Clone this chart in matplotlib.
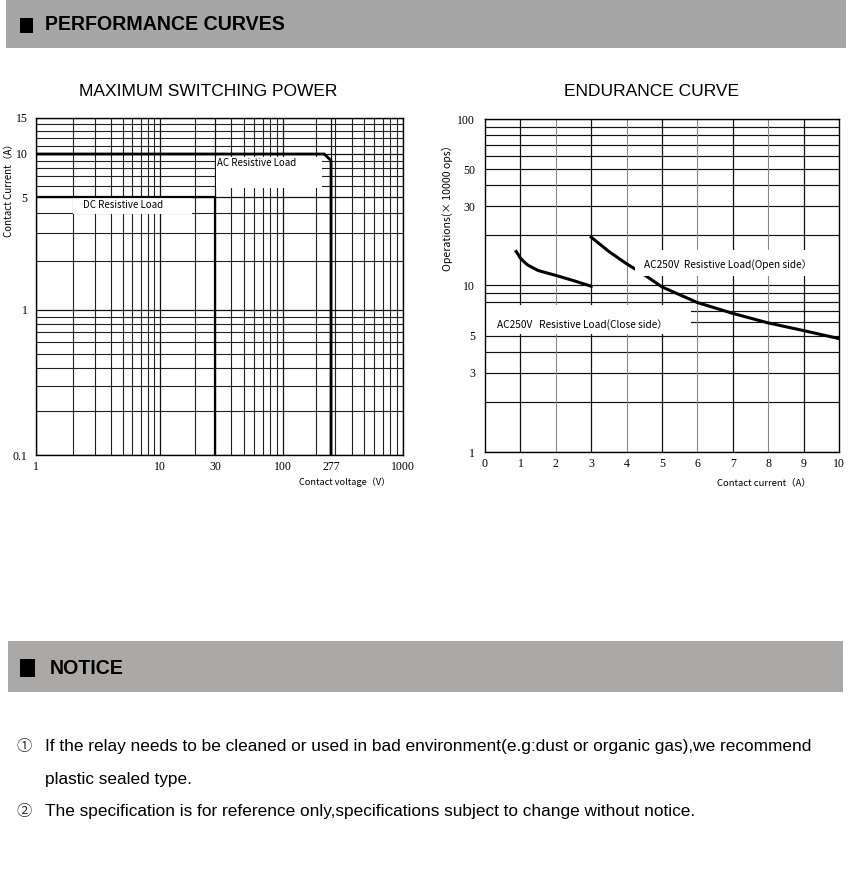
import numpy as np
import matplotlib
matplotlib.use("Agg")
import matplotlib.pyplot as plt
from matplotlib.patches import Rectangle
from matplotlib.ticker import FixedLocator, LogLocator, NullFormatter

W, H = 850, 871

# Maximum switching power (log-log, hand-drawn spacing)
dc_voltage = [1, 30, 30]
dc_current = [5, 5, 0.1]
ac_voltage = [1, 240, 277, 277]
ac_current = [10, 10, 9, 0.1]
power_xticks = [1, 10, 30, 100, 277, 1000]
power_xminor = [2, 3, 4, 5, 6, 7, 8, 9, 20, 30, 40, 50, 60, 70, 80, 90,
                200, 300, 400, 500, 600, 700, 800, 900]
power_yticks = [0.1, 1, 5, 10, 15]
power_yminor = [0.2, 0.3, 0.4, 0.5, 0.6, 0.7, 0.8, 0.9,
                2, 3, 4, 6, 7, 8, 9, 11, 12, 13, 14]

# Endurance curve
close_current = [0.88, 0.95, 1.0, 1.1, 1.2, 1.5, 2.0, 2.5, 3.0]
close_ops = [16.0, 15.2, 14.6, 13.9, 13.3, 12.3, 11.5, 10.7, 9.9]
open_current = [3.0, 3.5, 4.0, 4.5, 5.0, 6.0, 7.0, 8.0, 9.0, 10.0]
open_ops = [19.5, 16.0, 13.5, 11.6, 9.8, 7.9, 6.8, 5.96, 5.36, 4.8]
endurance_xticks = list(range(0, 11))
endurance_yticks = [1, 3, 5, 10, 30, 50, 100]

notice_lines = [
    "If the relay needs to be cleaned or used in bad environment(e.g:dust or organic gas),we recommend",
    "plastic sealed type.",
    "The specification is for reference only,specifications subject to change without notice.",
]

CJK = ["Noto Sans CJK SC", "DejaVu Sans"]
SANS = ["Liberation Sans", "Noto Sans CJK SC", "DejaVu Sans"]
TICKFONT = dict(family="Liberation Serif", size=8.5)


def fx(x):
    return x / W


def fy(y):
    return 1 - y / H


def warped_log(decades, pixels):
    # the printed chart is not an exact log grid, so map log10 -> pixel piecewise
    decades = np.asarray(decades, float)
    pixels = np.asarray(pixels, float)

    def fwd(v):
        v = np.clip(np.asarray(v, float), 1e-6, None)
        return np.interp(np.log10(v), decades, pixels,
                         left=pixels[0], right=pixels[-1])

    def inv(p):
        return 10 ** np.interp(p, pixels, decades)

    return fwd, inv


fig = plt.figure(figsize=(W / 100, H / 100), dpi=100)


def band(x0, y0, x1, y1, color):
    fig.add_artist(Rectangle((fx(x0), fy(y1)), (x1 - x0) / W, (y1 - y0) / H,
                             transform=fig.transFigure, facecolor=color,
                             edgecolor="none", zorder=0))


# header bars
band(6, 0, 846, 48, "#a6a6a6")
band(20, 18, 33, 33, "black")
fig.text(fx(45), fy(25), "PERFORMANCE CURVES", family=SANS, weight="bold",
         size=14.1, va="center", ha="left")

band(8, 641, 843, 692, "#aba8a8")
band(20, 659, 35, 677, "black")
fig.text(fx(50), fy(668), "NOTICE", family=SANS, weight="bold",
         size=14.1, va="center", ha="left")

fig.text(fx(208), fy(92), "MAXIMUM SWITCHING POWER", family=SANS, size=12.5,
         ha="center", va="center")
fig.text(fx(651), fy(92), "ENDURANCE CURVE", family=SANS, size=12.5,
         ha="center", va="center")

# ---- left chart ----
ax1 = fig.add_axes([fx(36), fy(455), 367 / W, 337 / H])
ax1.set_xscale("function", functions=warped_log(
    [0, 1, np.log10(30), 2, np.log10(277), 3], [0, 124, 179, 247, 295, 367]))
ax1.set_yscale("function", functions=warped_log(
    [-1, 0, np.log10(5), 1, np.log10(15)], [0, 145, 258, 301, 337]))
ax1.set_xlim(1, 1000)
ax1.set_ylim(0.1, 15)
ax1.xaxis.set_major_locator(FixedLocator(power_xticks))
ax1.xaxis.set_minor_locator(FixedLocator(power_xminor))
ax1.yaxis.set_major_locator(FixedLocator(power_yticks))
ax1.yaxis.set_minor_locator(FixedLocator(power_yminor))
ax1.xaxis.set_minor_formatter(NullFormatter())
ax1.yaxis.set_minor_formatter(NullFormatter())
ax1.set_xticklabels([str(v) for v in power_xticks], **TICKFONT)
ax1.set_yticklabels([str(v) for v in power_yticks], **TICKFONT)
ax1.tick_params(which="both", length=0)
ax1.tick_params(axis="x", pad=4)
ax1.tick_params(axis="y", pad=6)
ax1.grid(which="major", color="#111111", linewidth=0.9)
ax1.grid(which="minor", color="#222222", linewidth=0.8)
ax1.set_axisbelow(True)
for s in ax1.spines.values():
    s.set_linewidth(1.0)
    s.set_color("black")

ax1.add_patch(Rectangle((2.0, 3.9), 17.0, 1.05, facecolor="white",
                        edgecolor="none", zorder=2))
ax1.add_patch(Rectangle((30.5, 5.8), 200, 3.8, facecolor="white",
                        edgecolor="none", zorder=2))
ax1.plot(ac_voltage, ac_current, color="black", linewidth=2.0, zorder=3,
         solid_joinstyle="miter")
ax1.plot(dc_voltage, dc_current, color="black", linewidth=1.6, zorder=3,
         solid_joinstyle="miter")
ax1.text(2.4, 4.45, "DC Resistive Load", family=CJK, size=7.0,
         va="center", ha="left", zorder=4)
ax1.text(31, 8.7, "AC Resistive Load", family=CJK, size=7.0,
         va="center", ha="left", zorder=4)

fig.text(fx(9), fy(188), "Contact Current（A）", family=CJK, size=7.0,
         rotation=90, ha="center", va="center")
fig.text(fx(345), fy(482), "Contact voltage（V）", family=CJK, size=6.6,
         ha="center", va="center")

# ---- right chart ----
ax2 = fig.add_axes([fx(485), fy(452), 354 / W, 333 / H])
ax2.set_yscale("log")
ax2.set_xlim(0, 10)
ax2.set_ylim(1, 100)
ax2.xaxis.set_major_locator(FixedLocator(endurance_xticks))
ax2.yaxis.set_major_locator(FixedLocator(endurance_yticks))
ax2.yaxis.set_minor_locator(LogLocator(base=10, subs=range(2, 10)))
ax2.yaxis.set_minor_formatter(NullFormatter())
ax2.set_xticklabels([str(v) for v in endurance_xticks], **TICKFONT)
ax2.set_yticklabels([str(v) for v in endurance_yticks], **TICKFONT)
ax2.tick_params(which="both", length=0)
ax2.tick_params(axis="x", pad=4)
ax2.tick_params(axis="y", pad=7)
ax2.grid(axis="y", which="both", color="#111111", linewidth=0.85)
for v in endurance_xticks[1:-1]:
    ax2.axvline(v, color="#111111" if v % 2 else "#888888",
                linewidth=0.9 if v % 2 else 0.8, zorder=1)
ax2.set_axisbelow(True)
for s in ax2.spines.values():
    s.set_linewidth(1.0)
    s.set_color("black")

ax2.add_patch(Rectangle((0.02, 5.1), 5.8, 2.5, facecolor="white",
                        edgecolor="none", zorder=2))
ax2.add_patch(Rectangle((4.25, 11.4), 4.9, 5.0, facecolor="white",
                        edgecolor="none", zorder=4))
ax2.plot(close_current, close_ops, color="black", linewidth=2.2, zorder=3)
ax2.plot(open_current, open_ops, color="black", linewidth=2.2, zorder=3)
ax2.text(0.33, 5.8, "AC250V   Resistive Load(Close side）", family=CJK,
         size=7.3, va="center", ha="left", zorder=5)
ax2.text(4.5, 13.3, "AC250V  Resistive Load(Open side）", family=CJK,
         size=7.3, va="center", ha="left", zorder=5)

fig.text(fx(447), fy(205), "Operations(× 10000 ops）", family=CJK, size=7.6,
         rotation=90, ha="center", va="center")
fig.text(fx(764), fy(483), "Contact current（A）", family=CJK, size=6.8,
         ha="center", va="center")

# ---- notice text ----
fig.text(fx(24), fy(746), "①", family=CJK, size=11, ha="center",
         va="center", color="#333333")
fig.text(fx(45), fy(746), notice_lines[0], family=SANS, size=12.45,
         ha="left", va="center")
fig.text(fx(45), fy(779), notice_lines[1], family=SANS, size=12.45,
         ha="left", va="center")
fig.text(fx(24), fy(811), "②", family=CJK, size=11, ha="center",
         va="center", color="#333333")
fig.text(fx(45), fy(811), notice_lines[2], family=SANS, size=12.45,
         ha="left", va="center")

fig.savefig("out.png", dpi=100, facecolor="white")
